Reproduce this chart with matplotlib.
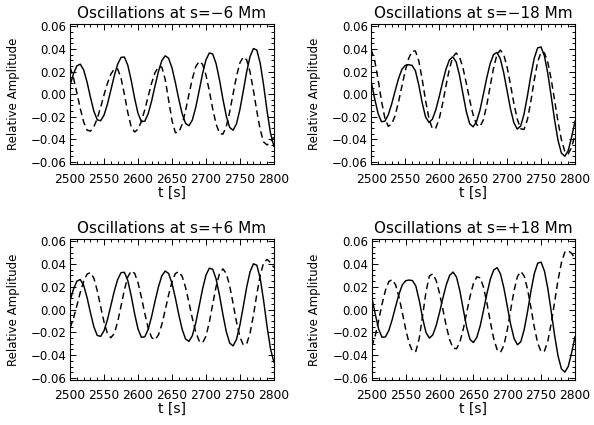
import matplotlib
matplotlib.use("Agg")
import matplotlib.pyplot as plt
from matplotlib.ticker import FuncFormatter, MultipleLocator

# sample times (s), every 5 s
time_s = list(range(2500, 2805, 5))

# reference (solid) curve shown with the +-6 Mm panels
ref_6 = [
    0.0080, 0.0180, 0.0250, 0.0265, 0.0214, 0.0106, -0.0028, -0.0151, -0.0227, -0.0235,
    -0.0185, -0.0088, 0.0035, 0.0161, 0.0264, 0.0325, 0.0328, 0.0255, 0.0121, -0.0036,
    -0.0170, -0.0243, -0.0239, -0.0173, -0.0062, 0.0072, 0.0198, 0.0296, 0.0339, 0.0318,
    0.0233, 0.0103, -0.0043, -0.0173, -0.0258, -0.0279, -0.0229, -0.0117, 0.0029, 0.0180,
    0.0302, 0.0364, 0.0355, 0.0269, 0.0126, -0.0043, -0.0194, -0.0294, -0.0319, -0.0262,
    -0.0137, 0.0027, 0.0197, 0.0333, 0.0403, 0.0390, 0.0272, 0.0077, -0.0147, -0.0342,
    -0.0460,
]

# reference (solid) curve shown with the +-18 Mm panels
ref_18 = [
    0.0107, -0.0039, -0.0170, -0.0243, -0.0240, -0.0184, -0.0089, 0.0025, 0.0134, 0.0218,
    0.0254, 0.0260, 0.0255, 0.0207, 0.0081, -0.0076, -0.0202, -0.0250, -0.0222, -0.0140,
    -0.0024, 0.0104, 0.0220, 0.0302, 0.0330, 0.0286, 0.0165, 0.0003, -0.0155, -0.0262,
    -0.0289, -0.0244, -0.0143, -0.0004, 0.0142, 0.0268, 0.0349, 0.0369, 0.0313, 0.0190,
    0.0030, -0.0130, -0.0253, -0.0309, -0.0282, -0.0175, -0.0015, 0.0165, 0.0318, 0.0409,
    0.0417, 0.0337, 0.0181, -0.0020, -0.0230, -0.0408, -0.0521, -0.0549, -0.0500, -0.0380,
    -0.0240,
]

# dashed curves at each position
dash_m6 = [
    0.0237, 0.0144, 0.0012, -0.0128, -0.0247, -0.0318, -0.0327, -0.0289, -0.0215, -0.0116,
    -0.0006, 0.0096, 0.0177, 0.0222, 0.0223, 0.0142, -0.0003, -0.0164, -0.0289, -0.0335,
    -0.0310, -0.0241, -0.0137, -0.0019, 0.0097, 0.0189, 0.0241, 0.0240, 0.0132, -0.0050,
    -0.0232, -0.0340, -0.0338, -0.0267, -0.0146, -0.0001, 0.0136, 0.0243, 0.0289, 0.0265,
    0.0171, 0.0029, -0.0130, -0.0265, -0.0346, -0.0354, -0.0287, -0.0157, 0.0002, 0.0158,
    0.0276, 0.0329, 0.0303, 0.0196, 0.0032, -0.0152, -0.0316, -0.0423, -0.0449, -0.0425,
    -0.0380,
]

dash_m18 = [
    0.0392, 0.0300, 0.0133, -0.0057, -0.0211, -0.0284, -0.0267, -0.0192, -0.0073, 0.0067,
    0.0205, 0.0315, 0.0379, 0.0382, 0.0294, 0.0132, -0.0056, -0.0218, -0.0306, -0.0300,
    -0.0220, -0.0086, 0.0073, 0.0222, 0.0327, 0.0364, 0.0330, 0.0233, 0.0097, -0.0053,
    -0.0183, -0.0268, -0.0288, -0.0229, -0.0100, 0.0067, 0.0228, 0.0347, 0.0390, 0.0351,
    0.0241, 0.0085, -0.0081, -0.0221, -0.0306, -0.0312, -0.0224, -0.0064, 0.0124, 0.0284,
    0.0372, 0.0365, 0.0280, 0.0131, -0.0055, -0.0244, -0.0403, -0.0505, -0.0529, -0.0470,
    -0.0360,
]

dash_p6 = [
    -0.0162, -0.0075, 0.0035, 0.0152, 0.0249, 0.0312, 0.0326, 0.0276, 0.0167, 0.0026,
    -0.0110, -0.0211, -0.0247, -0.0211, -0.0109, 0.0032, 0.0176, 0.0288, 0.0339, 0.0320,
    0.0237, 0.0109, -0.0034, -0.0162, -0.0245, -0.0265, -0.0224, -0.0132, -0.0005, 0.0128,
    0.0243, 0.0317, 0.0335, 0.0292, 0.0196, 0.0063, -0.0077, -0.0197, -0.0274, -0.0292,
    -0.0235, -0.0111, 0.0048, 0.0203, 0.0317, 0.0358, 0.0319, 0.0208, 0.0054, -0.0108,
    -0.0239, -0.0310, -0.0301, -0.0206, -0.0048, 0.0137, 0.0303, 0.0413, 0.0441, 0.0415,
    0.0370,
]

dash_p18 = [
    -0.0325, -0.0229, -0.0095, 0.0047, 0.0168, 0.0246, 0.0265, 0.0218, 0.0113, -0.0026,
    -0.0173, -0.0294, -0.0366, -0.0367, -0.0252, -0.0051, 0.0158, 0.0296, 0.0315, 0.0256,
    0.0143, 0.0000, -0.0147, -0.0267, -0.0338, -0.0344, -0.0286, -0.0172, -0.0028, 0.0116,
    0.0230, 0.0288, 0.0280, 0.0196, 0.0056, -0.0108, -0.0255, -0.0352, -0.0376, -0.0314,
    -0.0178, -0.0003, 0.0166, 0.0291, 0.0336, 0.0295, 0.0177, 0.0014, -0.0157, -0.0295,
    -0.0371, -0.0363, -0.0273, -0.0117, 0.0071, 0.0262, 0.0414, 0.0505, 0.0518, 0.0495,
    0.0450,
]

x_ticks = [2500, 2550, 2600, 2650, 2700, 2750, 2800]
y_ticks = [-0.06, -0.04, -0.02, 0.00, 0.02, 0.04, 0.06]

PANELS = [
    ("Oscillations at s=\u22126 Mm", ref_6, dash_m6, [0.118, 0.614, 0.343, 0.330]),
    ("Oscillations at s=\u221218 Mm", ref_18, dash_m18, [0.625, 0.614, 0.343, 0.330]),
    ("Oscillations at s=+6 Mm", ref_6, dash_p6, [0.118, 0.106, 0.343, 0.332]),
    ("Oscillations at s=+18 Mm", ref_18, dash_p18, [0.626, 0.106, 0.342, 0.332]),
]


def fmt_y(v, pos):
    v = round(v, 4)
    if v == 0:
        v = 0.0
    return f"{v:.2f}".replace("-", "\u2212")


fig = plt.figure(figsize=(5.94, 4.25), dpi=100)

for title, solid, dashed, rect in PANELS:
    ax = fig.add_axes(rect)
    ax.plot(time_s, solid, color="black", lw=1.05)
    ax.plot(time_s, dashed, color="black", lw=1.05, dashes=(4.5, 2.8))
    ax.set_xlim(2500, 2800)
    ax.set_ylim(-0.0618, 0.0622)
    ax.set_xticks(x_ticks)
    ax.set_yticks(y_ticks)
    ax.xaxis.set_minor_locator(MultipleLocator(10))
    ax.yaxis.set_minor_locator(MultipleLocator(0.005))
    ax.yaxis.set_major_formatter(FuncFormatter(fmt_y))
    ax.tick_params(which="both", direction="in", top=True, right=True, width=0.7)
    ax.tick_params(which="major", length=4.5)
    ax.tick_params(which="minor", length=2.2)
    ax.tick_params(axis="x", labelsize=8.8, pad=6.5)
    ax.tick_params(axis="y", labelsize=8.5, pad=2.5)
    for sp in ax.spines.values():
        sp.set_linewidth(0.8)
    ax.set_title(title, fontsize=11, pad=4)
    ax.set_xlabel("t [s]", fontsize=10, labelpad=0)
    ax.set_ylabel("Relative Amplitude", fontsize=8.5, labelpad=8)

fig.savefig("out.png", dpi=100)
